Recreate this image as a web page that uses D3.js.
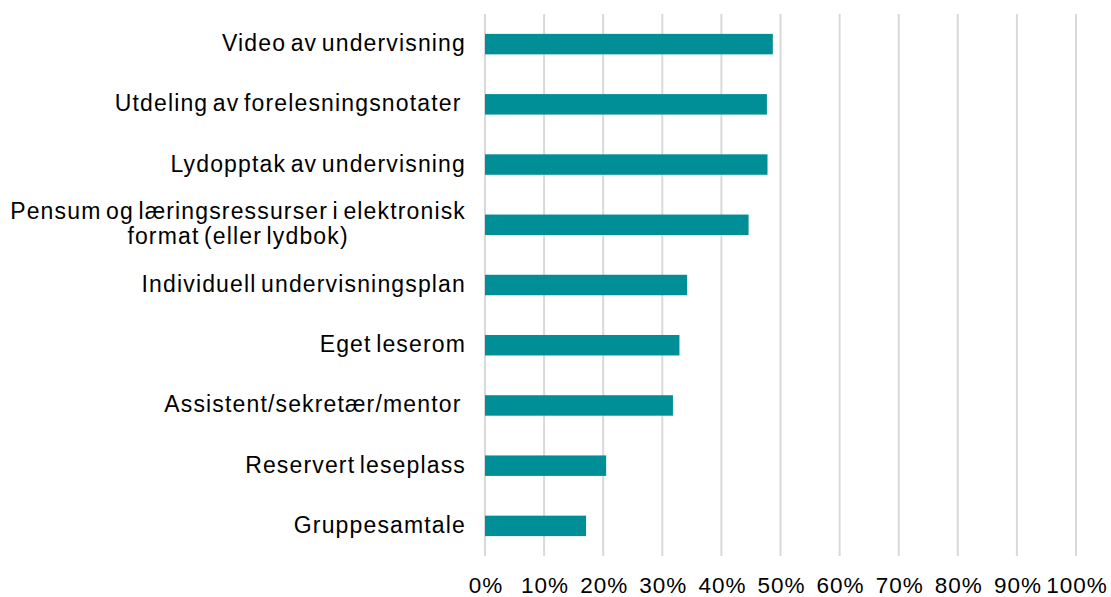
<!DOCTYPE html>
<html>
<head>
<meta charset="utf-8">
<script src="https://cdn.jsdelivr.net/npm/d3@7"></script>
<style>
  body { margin: 0; background: #fff; }
  text { font-family: "Liberation Sans", Arial, sans-serif; fill: #000; }
</style>
</head>
<body>
<div id="chart"></div>
<script>
// data (percent)
const categories = [
  "Video av undervisning",
  "Utdeling av forelesningsnotater ",
  "Lydopptak av undervisning",
  "Pensum og læringsressurser i elektronisk\nformat (eller lydbok)",
  "Individuell undervisningsplan",
  "Eget leserom",
  "Assistent/sekretær/mentor ",
  "Reservert leseplass",
  "Gruppesamtale"
];
const values = [48.7, 47.7, 47.8, 44.6, 34.2, 32.9, 31.8, 20.5, 17.1];
const tickValues = [0, 10, 20, 30, 40, 50, 60, 70, 80, 90, 100];

const width = 1111;
const height = 597;
const margin = {top: 14, right: 35, bottom: 41, left: 485};

const svg = d3.select("#chart").append("svg")
  .attr("width", width)
  .attr("height", height);

//----------------------------SCALES----------------------------//
const x = d3.scaleLinear()
  .domain([0, 100])
  .range([margin.left, width - margin.right]);

const y = d3.scaleBand()
  .domain(categories)
  .range([margin.top, height - margin.bottom])
  .paddingInner(0.66)
  .paddingOuter(0.33);

//----------------------------GRID------------------------------//
svg.append("g")
  .selectAll("line")
  .data(tickValues)
  .enter()
  .append("line")
  .attr("x1", d => x(d))
  .attr("x2", d => x(d))
  .attr("y1", margin.top)
  .attr("y2", height - margin.bottom)
  .style("stroke", "#d9d9d9")
  .style("stroke-width", 2);

//----------------------------BARS------------------------------//
svg.append("g")
  .selectAll("rect")
  .data(categories)
  .enter()
  .append("rect")
  .attr("x", x(0))
  .attr("y", d => y(d))
  .attr("width", (d, i) => x(values[i]) - x(0))
  .attr("height", y.bandwidth())
  .style("fill", "#008f96");

//-----------------------------AXES-----------------------------//
const xaxis = d3.axisBottom(x)
  .tickValues(tickValues)
  .tickSize(0)
  .tickPadding(0)
  .tickFormat(d => d + "%");

const gx = svg.append("g")
  .attr("transform", "translate(0," + (height - margin.bottom) + ")")
  .call(xaxis);
gx.select(".domain").remove();
gx.selectAll("text")
  .attr("y", 37)
  .attr("dy", 0)
  .attr("dx", 0.5)
  .style("font-size", "22.5px")
  .style("letter-spacing", "1px");

// category labels, wrapped ones centred on each other
const labels = svg.append("g")
  .selectAll("text")
  .data(categories)
  .enter()
  .append("text")
  .attr("xml:space", "preserve")
  .style("font-size", "23px")
  .style("letter-spacing", "1.15px")
  .style("word-spacing", "-3px")
  .style("white-space", "pre");

labels.each(function(d) {
  const t = d3.select(this);
  const lines = d.split("\n");
  const cy = y(d) + y.bandwidth() / 2;
  const lh = 25;
  lines.forEach((ln, k) => {
    t.append("tspan")
      .text(ln)
      .attr("y", cy + (k - (lines.length - 1) / 2) * lh - 1)
      .attr("dy", "0.35em");
  });
  if (lines.length === 1) {
    t.attr("text-anchor", "end");
    t.selectAll("tspan").attr("x", x(0) - 19);
  } else {
    const w = d3.max(t.selectAll("tspan").nodes(), n => n.getComputedTextLength());
    t.attr("text-anchor", "middle");
    t.selectAll("tspan").attr("x", x(0) - 19 - w / 2);
  }
});
</script>
</body>
</html>
